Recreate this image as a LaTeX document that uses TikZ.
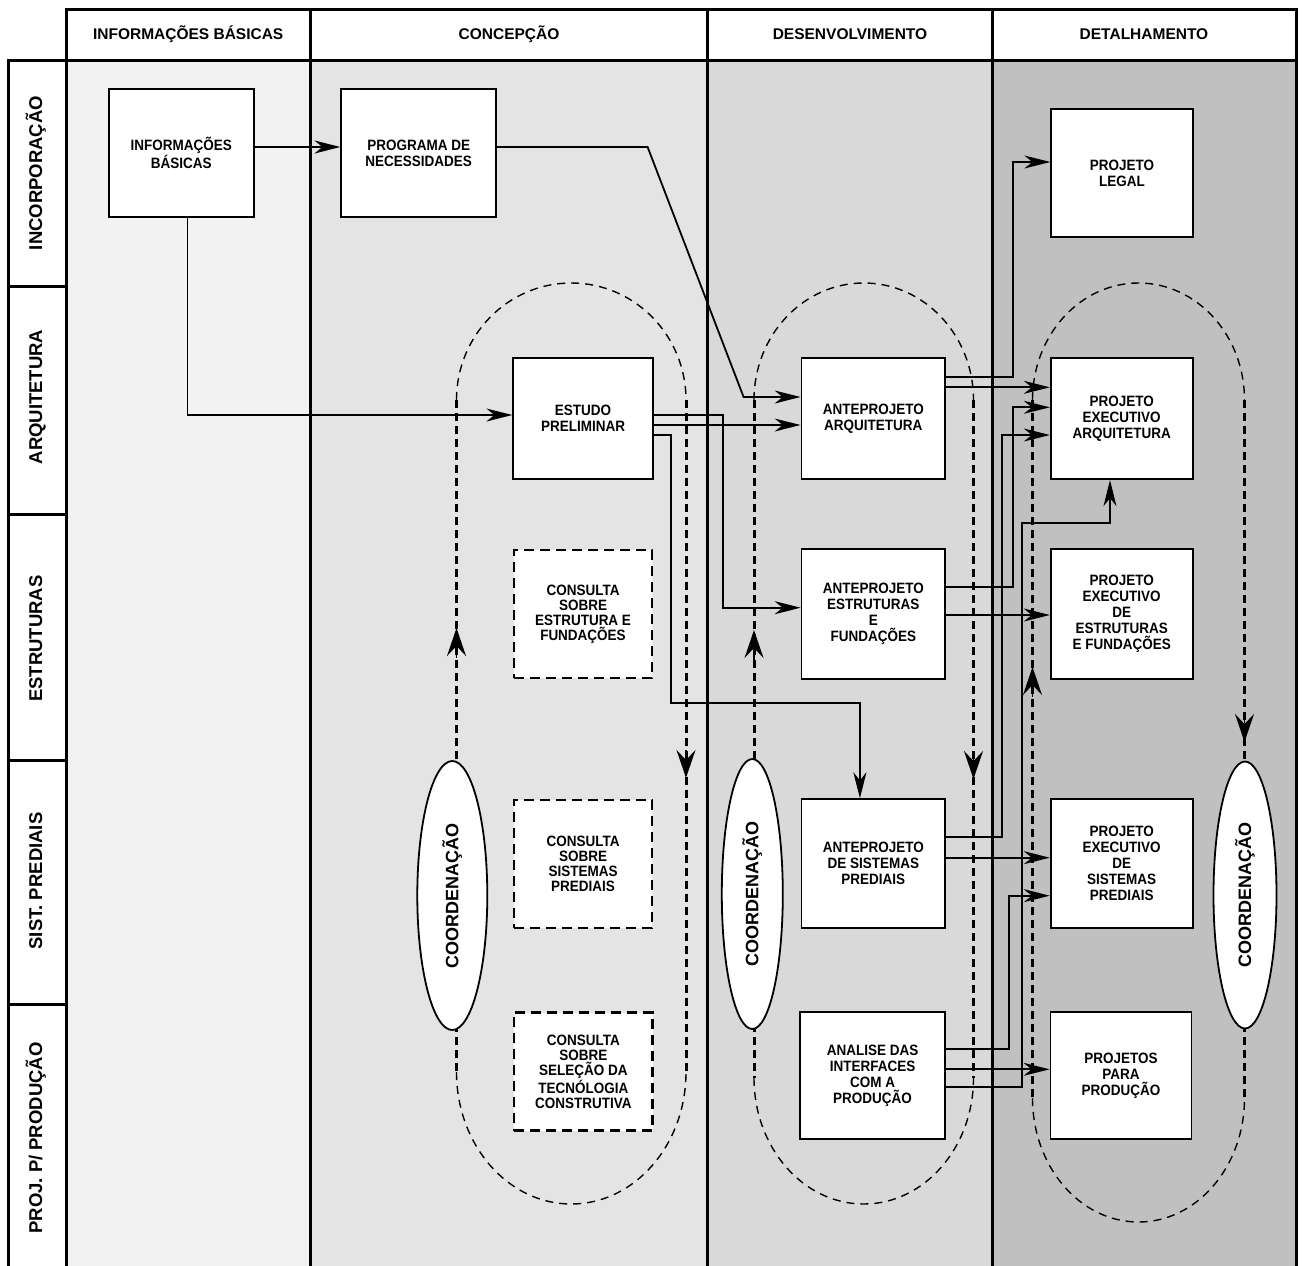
\documentclass[tikz,border=0pt]{standalone}
\usepackage{fontspec}
\setmainfont{Liberation Sans}
\newfontfamily\boxfont{Liberation Sans}[FakeStretch=0.9]
\usetikzlibrary{arrows.meta,shapes.geometric}

\definecolor{colinfo}{HTML}{F2F2F2}
\definecolor{colconc}{HTML}{E4E4E4}
\definecolor{coldes}{HTML}{D9D9D9}
\definecolor{coldet}{HTML}{C0C0C0}

\begin{document}
\begin{tikzpicture}[x=1pt,y=-1pt,
  gridline/.style={line width=3pt, line cap=rect},
  stagebox/.style={draw, line width=1.8pt, fill=white, rectangle, align=center, inner sep=2pt,
     font=\boxfont\bfseries\fontsize{15}{16}\selectfont},
  consultbox/.style={stagebox, dash pattern=on 10pt off 6pt, line width=2.8pt,
     font=\boxfont\bfseries\fontsize{15}{15}\selectfont},
  coordell/.style={draw, ellipse, fill=white, line width=1.8pt, inner sep=0pt, rotate=90,
     font=\bfseries\fontsize{18}{20}\selectfont},
  rowlabel/.style={rotate=90, inner sep=0pt, text height=13.2pt, text depth=0pt,
     font=\bfseries\fontsize{18.5}{20}\selectfont},
  colhead/.style={inner sep=0pt, text height=11.2pt, text depth=0pt,
     font=\bfseries\fontsize{15.5}{18}\selectfont},
  conn/.style={line width=1.8pt, -{Stealth[length=26pt,width=13pt,inset=8pt]}},
  loopside/.style={line width=3pt, dash pattern=on 8pt off 5pt},
  looparc/.style={line width=1.4pt, dash pattern=on 8pt off 6pt},
  looptip/.style={line width=1.8pt, -{Stealth[length=28pt,width=19pt,inset=10pt]}},
]
\useasboundingbox (0,0) rectangle (1302,1266);
\fill[white] (0,0) rectangle (1302,1266);

% column backgrounds
\fill[colinfo] (66,60) rectangle (310.5,1270);
\fill[colconc] (310.5,60) rectangle (707.7,1270);
\fill[coldes] (707.7,60) rectangle (992.5,1270);
\fill[coldet] (992.5,60) rectangle (1296,1270);

% grid of the table
\draw[gridline] (66,9) -- (1296,9);
\draw[gridline] (8.4,60) -- (1296,60);
\draw[gridline] (8.4,60) -- (8.4,1270);
\draw[gridline] (66,9) -- (66,1270);
\foreach \x in {310.5,707.7,992.5,1296} \draw[gridline] (\x,9) -- (\x,1270);
\foreach \y in {286,514,760,1004} \draw[gridline] (8.4,\y) -- (66,\y);

% column headers
\node[colhead] (hinfo) at (188.2,33.6) {INFORMAÇÕES BÁSICAS};
\node[colhead] (hconc) at (509,33.6) {CONCEPÇÃO};
\node[colhead] (hdes)  at (850,33.6) {DESENVOLVIMENTO};
\node[colhead] (hdet)  at (1144,33.6) {DETALHAMENTO};

% row labels
\node[rowlabel] (rinc)  at (35.5,173) {INCORPORAÇÃO};
\node[rowlabel] (rarq)  at (35.5,397) {ARQUITETURA};
\node[rowlabel] (rest)  at (35.5,638.5) {ESTRUTURAS};
\node[rowlabel] (rsist) at (35.5,881) {SIST. PREDIAIS};
\node[rowlabel] (rproj) at (35.5,1138) {PROJ. P/ PRODUÇÃO};

% coordination loops (concepcao, desenvolvimento, detalhamento)
\draw[looparc] (456.5,400) arc[start angle=180,end angle=0,x radius=114.75pt,y radius=117pt];
\draw[looparc] (456.5,1072) arc[start angle=180,end angle=360,x radius=114.75pt,y radius=132pt];
\draw[loopside] (456.5,400) -- (456.5,1072);
\draw[loopside] (686,400) -- (686,1072);

\draw[looparc] (754,400) arc[start angle=180,end angle=0,x radius=109.75pt,y radius=117pt];
\draw[looparc] (754,1078) arc[start angle=180,end angle=360,x radius=109.75pt,y radius=126pt];
\draw[loopside] (754,400) -- (754,1078);
\draw[loopside] (973.5,400) -- (973.5,1078);

\draw[looparc] (1032.5,400) arc[start angle=180,end angle=0,x radius=106pt,y radius=117pt];
\draw[looparc] (1032.5,1098) arc[start angle=180,end angle=360,x radius=106pt,y radius=124pt];
\draw[loopside] (1032.5,400) -- (1032.5,1098);
\draw[loopside] (1244.5,400) -- (1244.5,1098);

% direction of the coordination loops
\draw[looptip] (456.5,658) -- (456.5,628);
\draw[looptip] (686,750) -- (686,778);
\draw[looptip] (754,660) -- (754,630);
\draw[looptip] (973.5,751) -- (973.5,779);
\draw[looptip] (1032.5,697) -- (1032.5,667);
\draw[looptip] (1244.5,714) -- (1244.5,742);

% coordination ellipses
\node[coordell, minimum width=269pt, minimum height=70pt] (c1) at (452.3,895.5) {COORDENAÇÃO};
\node[coordell, minimum width=270pt, minimum height=61pt] (c2) at (752.3,894) {COORDENAÇÃO};
\node[coordell, minimum width=267pt, minimum height=63pt] (c3) at (1245,895) {COORDENAÇÃO};

% stage boxes
\node[stagebox, minimum width=145pt, minimum height=128pt] (info) at (181.2,153) {INFORMAÇÕES\\BÁSICAS};
\node[stagebox, minimum width=154.7pt, minimum height=128pt] (prog) at (418.7,153) {PROGRAMA DE\\NECESSIDADES};
\node[stagebox, minimum width=141.5pt, minimum height=128pt] (legal) at (1122,173) {PROJETO\\LEGAL};

\node[stagebox, minimum width=139.4pt, minimum height=121.5pt] (estudo) at (583,418.5) {ESTUDO\\PRELIMINAR};
\node[stagebox, minimum width=143.5pt, minimum height=121.5pt] (aa) at (873.3,418.5) {ANTEPROJETO\\ARQUITETURA};
\node[stagebox, minimum width=142pt, minimum height=121.5pt] (pea) at (1121.7,418.5) {PROJETO\\EXECUTIVO\\ARQUITETURA};

\node[consultbox, minimum width=138pt, minimum height=128pt] (ce) at (583,614) {CONSULTA\\SOBRE\\ESTRUTURA E\\FUNDAÇÕES};
\node[stagebox, minimum width=143.5pt, minimum height=130pt] (ae) at (873.3,614) {ANTEPROJETO\\ESTRUTURAS\\E\\FUNDAÇÕES};
\node[stagebox, minimum width=142pt, minimum height=130pt] (peef) at (1121.7,614) {PROJETO\\EXECUTIVO\\DE\\ESTRUTURAS\\E FUNDAÇÕES};

\node[consultbox, minimum width=138pt, minimum height=128pt] (cs) at (583,864) {CONSULTA\\SOBRE\\SISTEMAS\\PREDIAIS};
\node[stagebox, minimum width=143.5pt, minimum height=128.5pt] (asp) at (873.3,863.5) {ANTEPROJETO\\DE SISTEMAS\\PREDIAIS};
\node[stagebox, minimum width=142pt, minimum height=128.5pt] (pesp) at (1121.7,863.5) {PROJETO\\EXECUTIVO\\DE\\SISTEMAS\\PREDIAIS};

\node[consultbox, minimum width=138.7pt, minimum height=118pt] (ct) at (583.3,1071.7) {CONSULTA\\SOBRE\\SELEÇÃO DA\\TECNÓLOGIA\\CONSTRUTIVA};
\node[stagebox, minimum width=145pt, minimum height=127.6pt] (an) at (872.6,1075.5) {ANALISE DAS\\INTERFACES\\COM A\\PRODUÇÃO};
\node[stagebox, minimum width=141pt, minimum height=127.6pt] (ppp) at (1121,1075.5) {PROJETOS\\PARA\\PRODUÇÃO};

% flows between the stages
\draw[conn] (info.east |- 0,147) -- (prog.west |- 0,147);
\draw[conn] (info.south -| 187.5,0) |- (estudo.west |- 0,415);
\draw[conn] (prog.east |- 0,147) -- (647.6,147) -- (743.6,397) -- (aa.west |- 0,397);
\draw[conn] (estudo.east |- 0,415) -- (723.3,415) -- (723.3,607.7) -- (ae.west |- 0,607.7);
\draw[conn] (estudo.east |- 0,425) -- (aa.west |- 0,425);
\draw[conn] (estudo.east |- 0,435) -- (670.7,435) -- (670.7,703.3) -- (859.9,703.3) -- (asp.north -| 859.9,0);
\draw[conn] (aa.east |- 0,377.3) -- (1013,377.3) -- (1013,162) -- (legal.west |- 0,162);
\draw[conn] (aa.east |- 0,387.3) -- (pea.west |- 0,387.3);
\draw[conn] (ae.east |- 0,587.3) -- (1013.3,587.3) -- (1013.3,407.3) -- (pea.west |- 0,407.3);
\draw[conn] (ae.east |- 0,615) -- (peef.west |- 0,615);
\draw[conn] (asp.east |- 0,836.7) -- (1001.7,836.7) -- (1001.7,435) -- (pea.west |- 0,435);
\draw[conn] (asp.east |- 0,857.7) -- (pesp.west |- 0,857.7);
\draw[conn] (an.east |- 0,1049.3) -- (1009.3,1049.3) -- (1009.3,895.7) -- (pesp.west |- 0,895.7);
\draw[conn] (an.east |- 0,1069.3) -- (ppp.west |- 0,1069.3);
\draw[conn] (an.east |- 0,1087.3) -- (1021.7,1087.3) -- (1021.7,522.7) -- (1110,522.7) -- (pea.south -| 1110,0);
\end{tikzpicture}
\end{document}
